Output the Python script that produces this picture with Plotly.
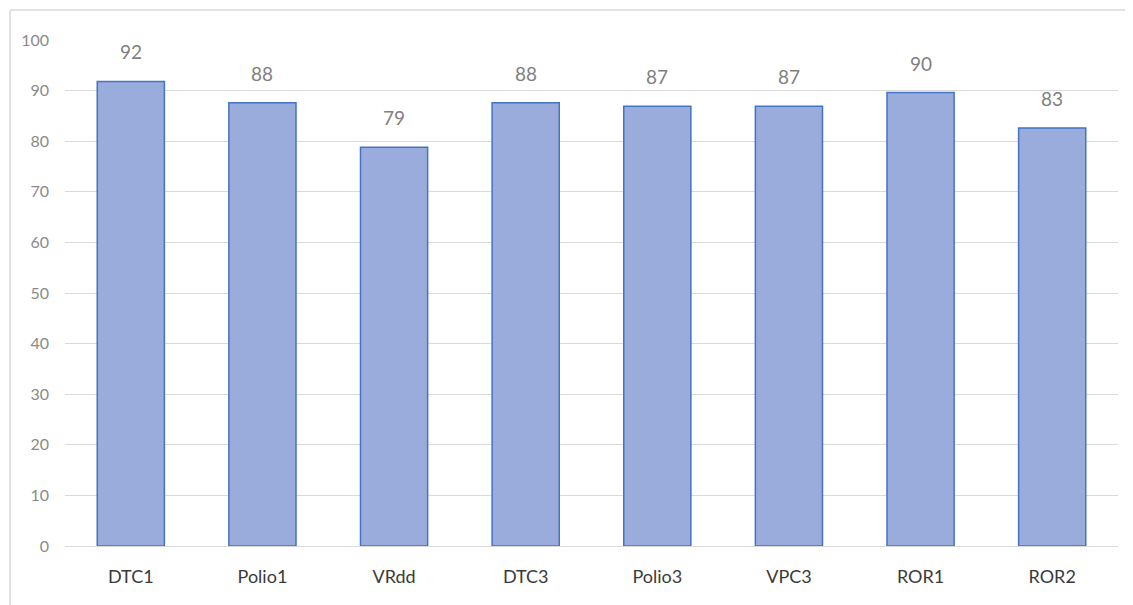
import plotly.graph_objects as go

categories = ["DTC1", "Polio1", "VRdd", "DTC3", "Polio3", "VPC3", "ROR1", "ROR2"]
values = [91.8, 87.6, 78.8, 87.6, 86.9, 86.9, 89.6, 82.6]
labels = ["92", "88", "79", "88", "87", "87", "90", "83"]

FONT = "Lato, sans-serif"

fig = go.Figure()
fig.add_trace(go.Bar(
    x=categories, y=values,
    marker=dict(color="#99ACDC", line=dict(color="#4472C4", width=1.5)),
    hoverinfo="x+y",
))
for c, v, t in zip(categories, values, labels):
    fig.add_annotation(x=c, y=v, text=t, showarrow=False, yanchor="bottom",
                       yshift=16, font=dict(family=FONT, size=19, color="#7F7F7F"))

# body has an 8px margin in the browser, so margins are offset by 8px
fig.update_layout(
    width=1133, height=605,
    margin=dict(l=57, r=23, t=32, b=67, autoexpand=False),
    plot_bgcolor="white", paper_bgcolor="white",
    bargap=0.49, showlegend=False,
    font=dict(family=FONT),
    xaxis=dict(showgrid=False, showline=False, ticks="",
               tickfont=dict(family=FONT, size=18, color="#3A3A3A"),
               ticklabelstandoff=18),
    yaxis=dict(range=[0, 100], dtick=10, showgrid=True, gridcolor="#D9D9D9",
               gridwidth=1.3, zeroline=True, zerolinecolor="#D9D9D9", zerolinewidth=1.3,
               showline=False, ticks="",
               tickfont=dict(family=FONT, size=16, color="#8A8A8A"),
               ticklabelstandoff=15),
)
fig.add_shape(type="line", xref="paper", yref="paper", x0=-0.0522, x1=1.1, y0=1.0593, y1=1.0593,
              line=dict(color="#D9D9D9", width=1.5))
fig.add_shape(type="line", xref="paper", yref="paper", x0=-0.0522, x1=-0.0522, y0=1.0593, y1=-0.2,
              line=dict(color="#D9D9D9", width=1.5))

fig.write_html("out.html")
